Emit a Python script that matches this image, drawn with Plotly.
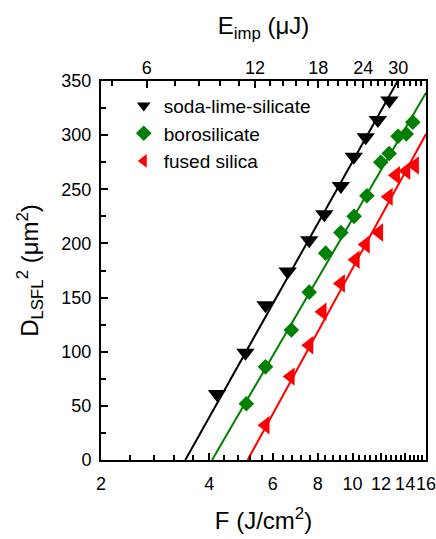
import numpy as np
import plotly.graph_objects as go

# Materials and marker styles
materials = ["soda-lime-silicate", "borosilicate", "fused silica"]
colors = ["#000000", "#008000", "#ff0000"]
symbols = ["triangle-down", "diamond", "triangle-left"]
marker_sizes = [16, 12, 16]

# Measured squared LSFL diameters vs. peak fluence
f_sls = [4.20, 5.04, 5.73, 6.60, 7.58, 8.35, 9.28, 10.08, 10.88, 11.76, 12.66]
d2_sls = [61, 99, 143, 174, 203, 227, 253, 280, 298, 314, 332]

f_bs = [5.07, 5.73, 6.76, 7.58, 8.42, 9.28, 10.10, 10.96, 11.98, 12.64, 13.38, 14.10, 14.70]
d2_bs = [52, 86, 120, 155, 191, 210, 225, 244, 275, 283, 299, 301, 312]

f_fs = [5.73, 6.73, 7.58, 8.25, 9.28, 10.20, 10.88, 11.85, 12.60, 13.20, 14.10, 14.90]
d2_fs = [32, 77, 106, 137, 163, 185, 199, 210, 243, 263, 267, 272]

# Liu-type fits: D^2 = slope * ln(F / F_th)
f_th = [3.43, 4.07, 5.11]
fit_slope = [257.6, 247.7, 263.7]

# Axis ticks
f_ticks = [2, 4, 6, 8, 10, 12, 14, 16]
e_ticks = [6, 12, 18, 24, 30]

# pulse energy per unit peak fluence (uJ per J/cm^2)
E_PER_F = 2.24

F_MIN, F_MAX = 2.0, 16.0
D2_MAX = 350.0

font_family = "Liberation Sans, Arial, sans-serif"

fig = go.Figure()

data_sets = [(f_sls, d2_sls), (f_bs, d2_bs), (f_fs, d2_fs)]

# fit lines first so markers sit on top
for i in range(3):
    f_end = min(F_MAX, f_th[i] * np.exp(D2_MAX / fit_slope[i]))
    fx = np.array([f_th[i], f_end])
    fy = fit_slope[i] * np.log(fx / f_th[i])
    fig.add_trace(go.Scatter(
        x=fx, y=fy, mode="lines",
        line=dict(color=colors[i], width=2),
        showlegend=False, hoverinfo="skip",
    ))

for i, (fx, dy) in enumerate(data_sets):
    fig.add_trace(go.Scatter(
        x=fx, y=dy, mode="markers", name=materials[i],
        marker=dict(symbol=symbols[i], size=marker_sizes[i], color=colors[i],
                    line=dict(width=0)),
    ))

# invisible trace to activate the top energy axis
fig.add_trace(go.Scatter(x=[F_MIN * E_PER_F], y=[0], xaxis="x2", mode="markers",
                         marker=dict(opacity=0), showlegend=False, hoverinfo="skip"))

minor_f = [float(v) for v in np.round(np.arange(2.4, 16.0, 0.4), 2)
           if abs(v / 2 - round(v / 2)) > 1e-6]
minor_e = [float(v) for v in np.round(np.arange(4.8, 36.0, 1.2), 2)
           if abs(v / 6 - round(v / 6)) > 1e-6]

tick_font = dict(family=font_family, size=18, color="black")
title_font = dict(family=font_family, size=24, color="black")

fig.update_layout(
    width=436, height=539,
    margin=dict(l=101, r=10, t=81, b=79, autoexpand=False),
    paper_bgcolor="white", plot_bgcolor="white",
    font=dict(family=font_family, color="black"),
    xaxis=dict(
        type="log", range=[np.log10(F_MIN), np.log10(F_MAX)],
        tickmode="array", tickvals=f_ticks, ticktext=[str(v) for v in f_ticks],
        tickangle=0, automargin=False, ticklabeloverflow="allow",
        ticks="inside", ticklen=7, tickwidth=2, tickcolor="black",
        minor=dict(tickmode="array", tickvals=minor_f, ticks="inside", ticklen=5,
                   tickwidth=2, tickcolor="black", showgrid=False),
        showline=True, linecolor="black", linewidth=2, showgrid=False, zeroline=False,
        tickfont=tick_font, ticklabelstandoff=6,
        title=dict(text="F (J/cm<sup>2</sup>)", font=title_font, standoff=20),
    ),
    xaxis2=dict(
        type="log", overlaying="x", side="top",
        range=[np.log10(F_MIN * E_PER_F), np.log10(F_MAX * E_PER_F)],
        tickmode="array", tickvals=e_ticks, ticktext=[str(v) for v in e_ticks],
        tickangle=0, automargin=False, ticklabeloverflow="allow",
        ticks="inside", ticklen=7, tickwidth=2, tickcolor="black",
        minor=dict(tickmode="array", tickvals=minor_e, ticks="inside", ticklen=5,
                   tickwidth=2, tickcolor="black", showgrid=False),
        showline=True, linecolor="black", linewidth=2, showgrid=False, zeroline=False,
        tickfont=tick_font, ticklabelstandoff=-2,
        title=dict(text="E<sub>imp</sub> (μJ)", font=title_font, standoff=16),
    ),
    yaxis=dict(
        range=[0, D2_MAX], tick0=0, dtick=50, automargin=False,
        ticks="inside", ticklen=7, tickwidth=2, tickcolor="black",
        minor=dict(dtick=25, tick0=0, ticks="inside", ticklen=5, tickwidth=2,
                   tickcolor="black", showgrid=False),
        showline=True, linecolor="black", linewidth=2, mirror=True,
        showgrid=False, zeroline=False,
        tickfont=tick_font, ticklabelstandoff=4,
        title=dict(text="D<sub>LSFL</sub><sup>2</sup> (μm<sup>2</sup>)", font=title_font,
                   standoff=16),
    ),
    legend=dict(
        x=0.07, y=0.985, xanchor="left", yanchor="top",
        bgcolor="rgba(0,0,0,0)", borderwidth=0,
        font=dict(family=font_family, size=19, color="black"),
        itemsizing="constant",
    ),
    showlegend=True,
)

fig.write_html("out.html")
